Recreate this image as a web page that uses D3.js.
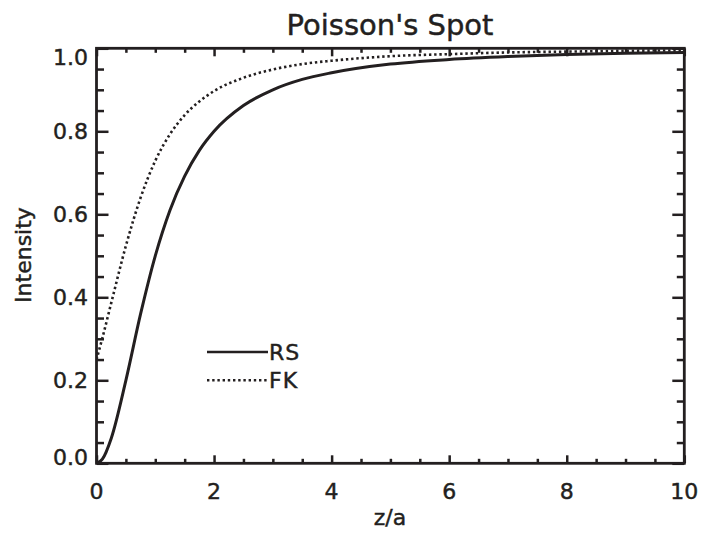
<!DOCTYPE html>
<html>
<head>
<meta charset="utf-8">
<script src="https://cdn.jsdelivr.net/npm/d3@7"></script>
<style>
    body { margin: 0; background: #fff; }
    svg text { font-family: "DejaVu Sans", sans-serif; fill: #231f20; stroke: #231f20; stroke-width: 0.45px; }
</style>
</head>
<body>
<svg id="chart" width="702" height="533"></svg>
<script>
// z/a positions
var zValues = [0, 0.1, 0.25, 0.5, 0.75, 1, 1.25, 1.5, 1.75, 2, 2.5, 3, 3.5, 4, 5, 6, 7, 8, 9, 10];
// on-axis intensity, Rayleigh-Sommerfeld (solid)
var rsValues = [0, 0.01, 0.06, 0.2, 0.36, 0.5, 0.61, 0.692, 0.754, 0.8, 0.862, 0.9, 0.925, 0.941, 0.962, 0.973, 0.98, 0.985, 0.988, 0.99];
// on-axis intensity, Fresnel-Kirchhoff (dotted)
var fkValues = [0.25, 0.302, 0.386, 0.524, 0.64, 0.729, 0.793, 0.839, 0.872, 0.897, 0.929, 0.949, 0.962, 0.97, 0.981, 0.986, 0.99, 0.992, 0.994, 0.995];

var xMajor = [0, 2, 4, 6, 8, 10];
var yMajor = [0, 0.2, 0.4, 0.6, 0.8, 1.0];
var legendLabels = ["RS", "FK"];

var svg = d3.select("#chart"),
    plotLeft = 96.5, plotRight = 684.3, plotTop = 48.3, plotBottom = 463.3,
    ink = "#231f20";

var xScale = d3.scaleLinear().domain([0, 10]).range([plotLeft, plotRight]),
    yScale = d3.scaleLinear().domain([0, 1]).range([plotBottom, plotTop]);

var xMinor = d3.range(0, 10.001, 0.5).filter(d => xMajor.indexOf(d) < 0),
    yMinor = d3.range(0, 1.0001, 0.05).map(d => +d.toFixed(2))
        .filter(d => yMajor.every(m => Math.abs(m - d) > 1e-6));

// ticks point inward on all four sides
function tickLayer(axis, transform) {
    var g = svg.append("g").attr("transform", transform).call(axis);
    g.select(".domain").remove();
    g.selectAll(".tick line").attr("stroke", ink).attr("stroke-width", 2.5);
    return g;
}

tickLayer(d3.axisBottom(xScale).tickValues(xMajor).tickSize(-8).tickFormat(""), `translate(0,${plotBottom})`);
tickLayer(d3.axisBottom(xScale).tickValues(xMinor).tickSize(-4.5).tickFormat(""), `translate(0,${plotBottom})`);
tickLayer(d3.axisTop(xScale).tickValues(xMajor).tickSize(-8).tickFormat(""), `translate(0,${plotTop})`);
tickLayer(d3.axisTop(xScale).tickValues(xMinor).tickSize(-4.5).tickFormat(""), `translate(0,${plotTop})`);
tickLayer(d3.axisLeft(yScale).tickValues(yMajor).tickSize(-12).tickFormat(""), `translate(${plotLeft},0)`);
tickLayer(d3.axisLeft(yScale).tickValues(yMinor).tickSize(-7.5).tickFormat(""), `translate(${plotLeft},0)`);
tickLayer(d3.axisRight(yScale).tickValues(yMajor).tickSize(-12).tickFormat(""), `translate(${plotRight},0)`);
tickLayer(d3.axisRight(yScale).tickValues(yMinor).tickSize(-7.5).tickFormat(""), `translate(${plotRight},0)`);

// tick labels
svg.append("g").selectAll("text")
    .data(xMajor).enter().append("text")
    .attr("x", d => xScale(d))
    .attr("y", 499)
    .attr("text-anchor", "middle")
    .style("font-size", "22px")
    .text(d => d);

svg.append("g").selectAll("text")
    .data(yMajor).enter().append("text")
    .attr("x", 88)
    .attr("y", d => yScale(d) + 8 + (d === 1 ? 9 : d === 0 ? -6 : 0))
    .attr("text-anchor", "end")
    .style("font-size", "22px")
    .text(d => d.toFixed(1));

// curves
var line = d3.line()
    .x((d, i) => xScale(zValues[i]))
    .y(d => yScale(d))
    .curve(d3.curveMonotoneX);

svg.append("clipPath").attr("id", "plot-clip")
    .append("rect")
    .attr("x", plotLeft).attr("y", plotTop - 2)
    .attr("width", plotRight - plotLeft).attr("height", plotBottom - plotTop + 2);

var plot = svg.append("g").attr("clip-path", "url(#plot-clip)");

plot.append("path")
    .datum(rsValues)
    .attr("d", line)
    .attr("fill", "none")
    .attr("stroke", ink)
    .attr("stroke-width", 3);

plot.append("path")
    .datum(fkValues)
    .attr("d", line)
    .attr("fill", "none")
    .attr("stroke", ink)
    .attr("stroke-width", 2.6)
    .attr("stroke-dasharray", "2.4,2.8");

// box
svg.append("rect")
    .attr("x", plotLeft).attr("y", plotTop)
    .attr("width", plotRight - plotLeft).attr("height", plotBottom - plotTop)
    .attr("fill", "none")
    .attr("stroke", ink)
    .attr("stroke-width", 2.8);

// legend
var legend = svg.append("g");
legendLabels.forEach((label, i) => {
    var ly = 352 + i * 28.3;
    legend.append("line")
        .attr("x1", 207).attr("x2", 268)
        .attr("y1", ly).attr("y2", ly)
        .attr("stroke", ink)
        .attr("stroke-width", i ? 2.6 : 2.5)
        .attr("stroke-dasharray", i ? "2.4,2.8" : null);
    legend.append("text")
        .attr("x", 269)
        .attr("y", ly + 8)
        .style("font-size", "22px")
        .style("letter-spacing", "1px")
        .text(label);
});

// titles
svg.append("text")
    .attr("x", 390).attr("y", 35)
    .attr("text-anchor", "middle")
    .style("font-size", "29px")
    .text("Poisson's Spot");

svg.append("text")
    .attr("x", 390).attr("y", 525)
    .attr("text-anchor", "middle")
    .style("font-size", "22px")
    .text("z/a");

svg.append("text")
    .attr("transform", "translate(31,255) rotate(-90)")
    .attr("text-anchor", "middle")
    .style("font-size", "22px")
    .text("Intensity");
</script>
</body>
</html>
